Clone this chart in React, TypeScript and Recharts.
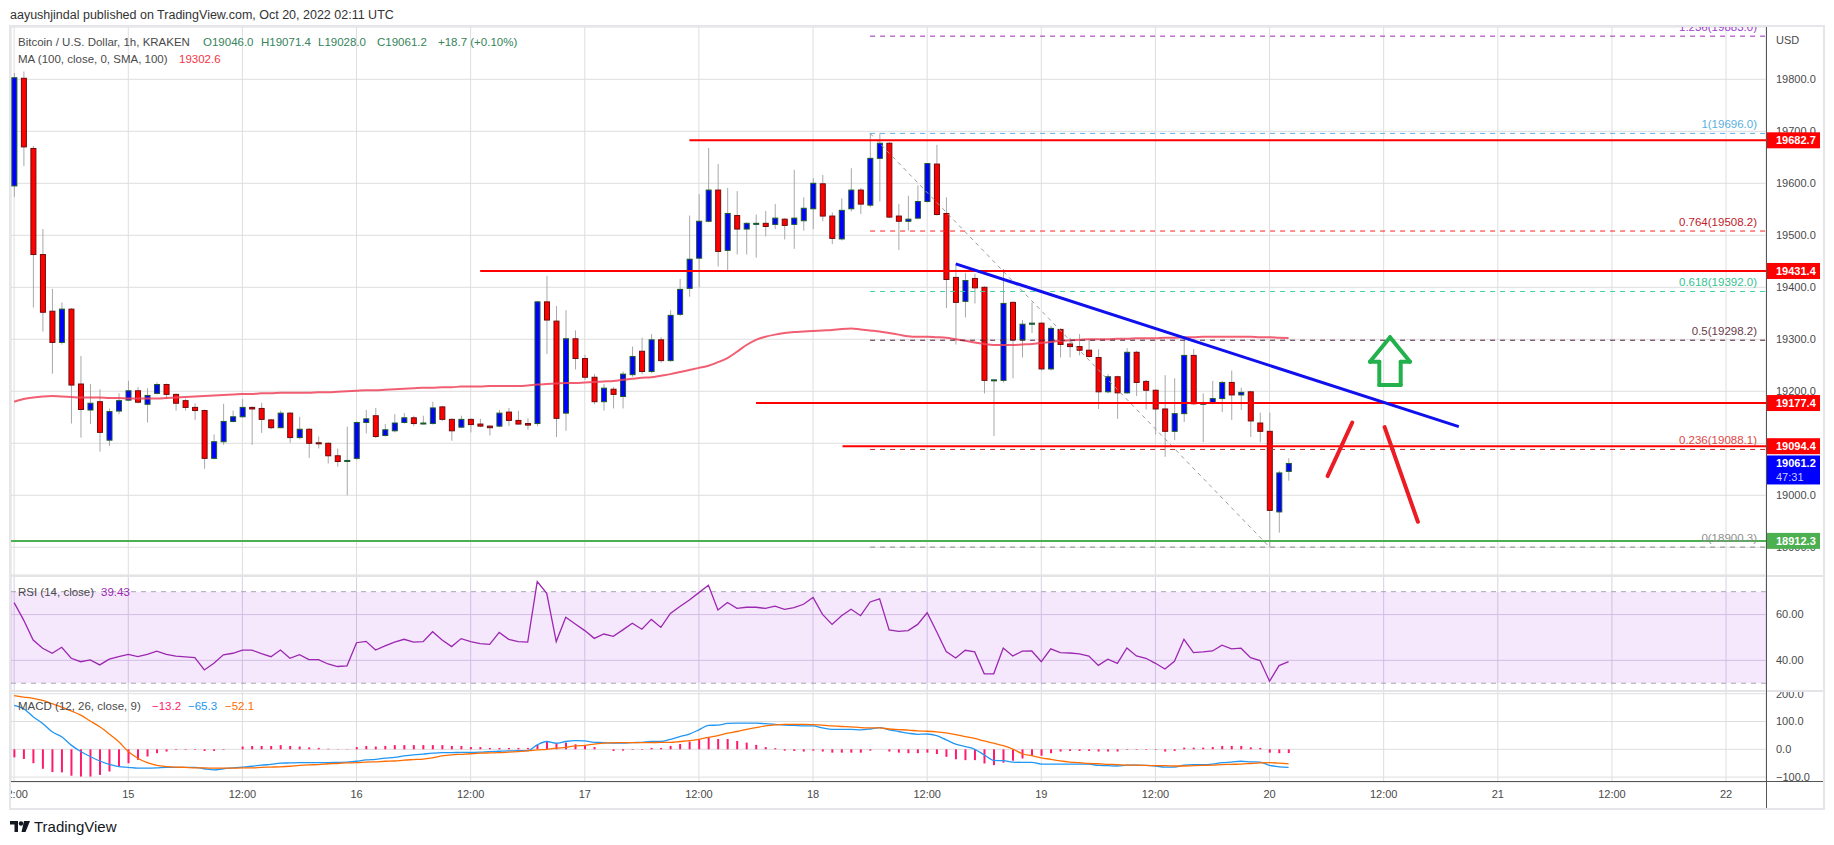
import React from "react";
import {
  ComposedChart,
  Bar,
  Line,
  XAxis,
  YAxis,
  CartesianGrid,
  ReferenceLine,
  ReferenceArea,
  ReferenceDot,
} from "recharts";

// hours are counted from Oct 15 00:00 UTC, the first candle is Oct 14 12:00
const FIRST_HOUR = -12;

const opens = [
  19595, 19802, 19667, 19463, 19354, 19294, 19358, 19214, 19164, 19180,
  19106, 19162, 19183, 19201, 19175, 19196, 19213, 19194, 19182, 19169,
  19163, 19071, 19103, 19142, 19151, 19169, 19167, 19145, 19130, 19158,
  19111, 19127, 19101, 19100, 19076, 19065, 19071, 19140, 19153, 19115,
  19124, 19140, 19149, 19138, 19138, 19170, 19146, 19131, 19146, 19137,
  19133, 19133, 19160, 19144, 19138, 19138, 19372, 19335, 19158, 19301,
  19263, 19227, 19180, 19204, 19190, 19232, 19277, 19238, 19299, 19259,
  19348, 19398, 19456, 19527, 19587, 19471, 19538, 19512, 19523, 19523,
  19521, 19531, 19521, 19528, 19551, 19599, 19537, 19493, 19551, 19587,
  19558, 19648, 19677, 19537, 19527, 19533, 19565, 19637, 19542, 19419,
  19373, 19417, 19400, 19221, 19221, 19371, 19299, 19329, 19331, 19243,
  19319, 19291, 19286, 19279, 19265, 19199, 19228, 19197, 19275, 19219,
  19202, 19166, 19123, 19157, 19269, 19176, 19177, 19186, 19217, 19193,
  19199, 19139, 19123, 18968, 19046,
];
const highs = [
  19812, 19815, 19672, 19512, 19397, 19371, 19360, 19268, 19214, 19204,
  19167, 19196, 19220, 19208, 19206, 19217, 19215, 19196, 19186, 19177,
  19165, 19117, 19176, 19163, 19185, 19171, 19178, 19147, 19163, 19160,
  19151, 19129, 19113, 19102, 19090, 19132, 19142, 19164, 19168, 19137,
  19156, 19158, 19153, 19153, 19180, 19172, 19148, 19153, 19148, 19147,
  19135, 19164, 19168, 19162, 19148, 19374, 19422, 19364, 19356, 19317,
  19270, 19233, 19214, 19208, 19238, 19286, 19303, 19310, 19304, 19356,
  19416, 19538, 19579, 19668, 19637, 19591, 19585, 19525, 19540, 19547,
  19560, 19533, 19626, 19573, 19610, 19616, 19544, 19571, 19629, 19591,
  19696, 19696, 19679, 19560, 19576, 19596, 19639, 19674, 19573, 19442,
  19428, 19426, 19402, 19223, 19435, 19373, 19337, 19371, 19333, 19326,
  19321, 19303, 19310, 19300, 19281, 19233, 19230, 19283, 19278, 19222,
  19204, 19231, 19225, 19302, 19281, 19196, 19220, 19220, 19240, 19207,
  19201, 19159, 19159, 19047, 19071.4,
];
const lows = [
  19574, 19633, 19361, 19315, 19234, 19290, 19138, 19111, 19137, 19084,
  19095, 19156, 19181, 19177, 19140, 19194, 19185, 19163, 19163, 19145,
  19051, 19069, 19097, 19140, 19149, 19097, 19120, 19127, 19129, 19101,
  19108, 19072, 19090, 19061, 19055, 19000, 19068, 19119, 19110, 19113,
  19121, 19138, 19133, 19136, 19136, 19143, 19105, 19129, 19121, 19131,
  19115, 19131, 19133, 19136, 19126, 19133, 19272, 19112, 19124, 19242,
  19222, 19175, 19163, 19167, 19167, 19228, 19233, 19235, 19255, 19257,
  19345, 19382, 19400, 19525, 19440, 19431, 19463, 19463, 19457, 19498,
  19512, 19492, 19474, 19509, 19512, 19527, 19483, 19490, 19546, 19541,
  19554, 19565, 19533, 19472, 19509, 19531, 19563, 19538, 19360, 19290,
  19342, 19369, 19196, 19114, 19217, 19225, 19265, 19312, 19240, 19240,
  19265, 19265, 19269, 19265, 19166, 19196, 19147, 19195, 19191, 19165,
  19117, 19074, 19106, 19141, 19174, 19102, 19175, 19160, 19145, 19164,
  19112, 19102, 18900.3, 18928, 19028,
];
const closes = [
  19803, 19670, 19463, 19352, 19294, 19358, 19212, 19165, 19177, 19121,
  19161, 19182, 19201, 19179, 19192, 19213, 19194, 19177, 19169, 19163,
  19071, 19103, 19142, 19151, 19169, 19166, 19146, 19130, 19158, 19111,
  19127, 19100, 19099, 19076, 19065, 19067, 19140, 19147, 19113, 19126,
  19139, 19149, 19138, 19139, 19168, 19146, 19124, 19146, 19136, 19133,
  19130, 19158, 19144, 19137, 19135, 19372, 19337, 19148, 19301, 19263,
  19227, 19180, 19206, 19194, 19233, 19267, 19238, 19299, 19259, 19346,
  19396, 19454, 19527, 19587, 19469, 19542, 19512, 19523, 19523, 19517,
  19533, 19519, 19533, 19552, 19600, 19537, 19494, 19548, 19587, 19560,
  19648, 19677, 19535, 19527, 19531, 19565, 19638, 19540, 19415, 19371,
  19413, 19399, 19221, 19222, 19369, 19299, 19329, 19331, 19243, 19321,
  19290, 19286, 19279, 19267, 19199, 19228, 19197, 19275, 19217, 19202,
  19166, 19123, 19157, 19269, 19176, 19177, 19186, 19217, 19193, 19198,
  19143, 19123, 18971, 19043, 19061.2,
];
const ma100 = [
  19180, 19185, 19188, 19190, 19191, 19190, 19189, 19188, 19188, 19188,
  19187, 19187, 19186, 19186, 19186, 19186, 19187, 19188, 19189, 19190,
  19191, 19192, 19193, 19194, 19195, 19195, 19196, 19196, 19197, 19197,
  19197, 19197, 19198, 19198, 19199, 19200, 19201, 19202, 19202, 19203,
  19204, 19205, 19206, 19207, 19207, 19208, 19208, 19209, 19209, 19209,
  19210, 19210, 19210, 19210, 19211, 19213, 19214, 19215, 19216, 19216,
  19217, 19218, 19219, 19220, 19222, 19224, 19226, 19227, 19230, 19233,
  19237, 19241, 19245, 19249, 19256, 19264, 19276, 19289, 19299, 19305,
  19309, 19312, 19314, 19315, 19316, 19317, 19318, 19320, 19321, 19319,
  19317, 19315, 19312, 19309, 19306, 19305, 19305, 19304, 19303, 19300,
  19297, 19294, 19291, 19289, 19289, 19289, 19290, 19291, 19293, 19295,
  19297, 19298, 19299, 19300, 19300, 19300, 19301, 19301, 19302, 19302,
  19302, 19303, 19303, 19304, 19304, 19305, 19305, 19305, 19305, 19305,
  19305, 19304, 19304, 19303, 19302.6,
];
const rsi14 = [
  65.2, 57.6, 48.9, 45.3, 43.1, 45.7, 40.9, 39.4, 40.2, 38.0,
  40.5, 41.6, 42.6, 41.6, 42.6, 44.0, 42.6, 41.8, 41.5, 41.2,
  35.8, 38.7, 42.4, 43.1, 44.5, 44.5, 42.9, 41.6, 44.5, 40.9,
  42.5, 40.3, 40.3, 38.4, 37.3, 37.6, 47.7, 48.3, 44.5, 46.3,
  48.0, 49.2, 48.0, 48.2, 52.5, 48.9, 46.0, 49.5, 48.2, 47.3,
  47.0, 52.2, 49.2, 48.2, 48.0, 74.4, 69.3, 48.2, 58.8, 55.9,
  53.0, 49.6, 51.5, 50.5, 53.3, 56.2, 53.6, 57.9, 54.4, 60.5,
  63.5, 66.4, 69.6, 72.8, 62.0, 65.3, 62.7, 63.2, 63.2, 62.7,
  63.7, 62.3, 63.0, 64.5, 67.5, 60.1, 55.7, 59.5, 62.3, 59.5,
  65.5, 66.9, 53.3, 52.7, 53.0, 55.7, 60.8, 52.5, 43.8, 41.0,
  44.4, 43.7, 34.1, 34.1, 45.4, 41.9, 44.0, 44.1, 39.4, 45.0,
  43.4, 43.2, 42.8, 41.9, 37.8, 40.5, 38.7, 45.4, 41.9, 40.9,
  38.7, 36.2, 39.6, 49.2, 43.4, 43.7, 44.1, 46.6, 45.0, 45.3,
  41.2, 39.9, 30.9, 37.7, 39.43,
];
const macdLine = [
  158, 146, 117, 93, 63, 45, 15, -8, -26, -42,
  -54, -62, -65, -68, -68, -67, -65, -65, -65, -65,
  -70, -74, -70, -67, -64, -61, -57, -54, -50, -49,
  -48, -48, -48, -48, -47, -46, -43, -38, -36, -32,
  -29, -24, -20, -17, -14, -12, -12, -11, -11, -10,
  -8, -7, -6, -5, -5, 16, 28, 22, 28, 31,
  30, 25, 24, 22, 22, 24, 25, 28, 28, 36,
  46, 55, 70, 86, 87, 93, 94, 94, 94, 92,
  90, 87, 86, 84, 84, 77, 72, 72, 72, 70,
  73, 78, 70, 64, 58, 54, 55, 49, 34, 19,
  10, 0, -20, -40, -41, -46, -47, -47, -53, -53,
  -53, -53, -53, -53, -58, -59, -60, -57, -57, -58,
  -60, -64, -64, -57, -55, -55, -53, -48, -46, -43,
  -45, -46, -58, -63, -65.3,
];
const signalLine = [
  193, 188, 183, 176, 164, 152, 138, 123, 102, 81,
  55, 27, -8, -32, -48, -58, -62, -64, -65, -67,
  -67, -68, -68, -68, -67, -67, -65, -64, -63, -61,
  -58, -56, -55, -52, -51, -49, -48, -46, -45, -43,
  -42, -39, -37, -35, -31, -24, -20, -18, -16, -14,
  -13, -12, -10, -8, -6, -2, 0, 4, 7, 12,
  14, 19, 22, 24, 24, 24, 24, 24, 25, 25,
  28, 31, 36, 43, 49, 58, 64, 72, 78, 84,
  88, 90, 90, 90, 89, 87, 84, 82, 81, 78,
  77, 77, 73, 71, 69, 66, 65, 63, 59, 53,
  46, 39, 30, 22, 13, 1, -16, -23, -31, -36,
  -42, -46, -48, -51, -52, -54, -55, -57, -57, -58,
  -59, -59, -60, -60, -59, -58, -57, -55, -54, -53,
  -51, -49, -48, -50, -52.1,
];
const macdHist = [
  -29, -35, -50, -70, -82, -83, -95, -98, -98, -92,
  -80, -62, -50, -38, -26, -14, -8, -2, -2, -2,
  -6, -6, -2, 0, 10, 12, 12, 12, 15, 12,
  10, 7, 5, 2, 1, 1, 8, 12, 10, 12,
  15, 15, 15, 15, 15, 15, 12, 12, 8, 8,
  5, 5, 5, 5, 5, 16, 30, 22, 24, 18,
  13, 8, 0, -6, -5, -2, -2, 5, 5, 12,
  19, 28, 36, 43, 37, 37, 30, 24, 16, 8,
  4, -5, -6, -8, -5, -8, -12, -12, -12, -12,
  -5, 0, -8, -12, -14, -14, -12, -17, -27, -36,
  -39, -39, -51, -57, -48, -41, -33, -24, -23, -14,
  -8, -6, -6, -6, -8, -8, -8, -2, -2, -2,
  -2, -8, -6, 6, 6, 6, 8, 12, 12, 12,
  7, 5, -12, -14, -13.2,
];

const hourTicks = [-12, 0, 12, 24, 36, 48, 60, 72, 84, 96, 108, 120, 132, 144, 156, 168];
const priceTicks = [18900, 19000, 19100, 19200, 19300, 19400, 19500, 19600, 19700, 19800];
const rsiTicks = [40, 60];
const macdTicks = [-100, 0, 100, 200];

// horizontal support / resistance rays (price, start hour)
const rayPrices = [19682.7, 19431.4, 19177.4, 19094.4];
const rayStarts = [59, 37, 66, 75.1];
const greenLevel = 18912.3;
const lastPrice = 19061.2;

// fibonacci retracement
const fibRatios = ["1.236", "1", "0.764", "0.618", "0.5", "0.236", "0"];
const fibPrices = [19883.0, 19696.0, 19508.2, 19392.0, 19298.2, 19088.1, 18900.3];
const fibLineColors = ["#9c27b0", "#5ab0e8", "#ff2020", "#3bd1a0", "#4d1f3a", "#c83030", "#8a8a8a"];
const fibTextColors = ["#a040d0", "#5aafe0", "#c0202a", "#34c38f", "#6a3a4a", "#e04848", "#909090"];
const fibStartHour = 78;
const fibEndHour = 120;

// hand drawn annotations (hour, price)
const trendHours = [87.0, 139.9];
const trendPrices = [19445, 19132];
const zigUpHours = [126.1, 128.7];
const zigUpPrices = [19037, 19140];
const zigDownHours = [132.1, 135.6];
const zigDownPrices = [19131, 18949];
const arrowHours = [132.67, 134.77, 133.79, 133.79, 131.54, 131.54, 130.56, 132.67];
const arrowPrices = [19304, 19257, 19257, 19212, 19212, 19257, 19257, 19304];

const X_MIN = -12.33;
const X_MAX = 172.2;
const PRICE_DOMAIN = [18846.7, 19900.6];
const W = 1834;
const AXIS_W = 57;
const FONT = '"Liberation Sans", Arial, sans-serif';
const MARGIN = { top: 0, right: 11, bottom: 0, left: 11 };

const rows = opens.map((o, i) => ({
  t: FIRST_HOUR + i,
  o,
  h: highs[i],
  l: lows[i],
  c: closes[i],
  range: [lows[i], highs[i]],
  ma: ma100[i],
  rsi: rsi14[i],
  macd: macdLine[i],
  signal: signalLine[i],
  hist: macdHist[i],
}));

const fmtHour = (t: number) => (t % 24 === 0 ? String(15 + t / 24) : "12:00");
const minus = (s: string) => s.replace("-", "\u2212");

const Candle = (props: any) => {
  const { x, y, width, height, payload } = props;
  const { o, h, l, c } = payload;
  const cx = x + width / 2;
  const k = height / (h - l || 1);
  const yOf = (v: number) => y + (h - v) * k;
  const up = c >= o;
  const top = yOf(Math.max(o, c));
  const bot = yOf(Math.min(o, c));
  return (
    <g>
      <line x1={cx} x2={cx} y1={y} y2={y + height} stroke="#a8a8a8" strokeWidth={1} />
      <rect
        x={cx - 2.5}
        y={top}
        width={5}
        height={Math.max(bot - top, 1)}
        fill={up ? "#0000ff" : "#ff0000"}
        stroke={up ? "#1e5b2c" : "#6e0b0b"}
        strokeWidth={1}
      />
    </g>
  );
};

const axisBox = (bg: string, label: string) => (p: any) => (
  <g>
    <rect x={p.cx + 1} y={p.cy - 8} width={53} height={16} fill={bg} />
    <text x={p.cx + 10} y={p.cy + 4} fill="#fff" fontSize={11} fontWeight="bold" fontFamily={FONT}>
      {label}
    </text>
  </g>
);

const lastBox = (p: any) => (
  <g>
    <rect x={p.cx + 1} y={p.cy - 8} width={53} height={29} fill="#0000ff" />
    <text x={p.cx + 10} y={p.cy + 4} fill="#fff" fontSize={11} fontWeight="bold" fontFamily={FONT}>
      {lastPrice.toFixed(1)}
    </text>
    <text x={p.cx + 10} y={p.cy + 18} fill="#c9c9ff" fontSize={11} fontFamily={FONT}>
      47:31
    </text>
  </g>
);

const fibLabel = (i: number) => (p: any) => (
  <text
    x={p.cx - 9}
    y={p.cy - 5}
    textAnchor="end"
    fill={fibTextColors[i]}
    fontSize={11.5}
    fontFamily={FONT}
  >
    {`${fibRatios[i]}(${fibPrices[i].toFixed(1)})`}
  </text>
);

const tickStyle = { fontSize: 11, fill: "#4a4a4a", fontFamily: FONT };

const Txt = ({ x, yc, color = "#4a4a4a", size = 11.5, children, weight }: any) => (
  <div
    style={{
      position: "absolute",
      left: x,
      top: yc - 8,
      height: 16,
      lineHeight: "16px",
      fontSize: size,
      color,
      fontFamily: FONT,
      fontWeight: weight,
      whiteSpace: "nowrap",
    }}
  >
    {children}
  </div>
);

const seg = (x1: number, y1: number, x2: number, y2: number) => [
  { x: x1, y: y1 },
  { x: x2, y: y2 },
];

export default function App() {
  const ohlcGreen = "#35845a";
  return (
    <div style={{ position: "absolute", left: 0, top: 0, width: W, height: 845, background: "#fff", overflow: "hidden" }}>
      {/* main price pane */}
      <div style={{ position: "absolute", left: 0, top: 27 }}>
        <ComposedChart width={W} height={548} data={rows} margin={MARGIN}>
          <CartesianGrid stroke="#dedede" />
          <XAxis dataKey="t" type="number" domain={[X_MIN, X_MAX]} ticks={hourTicks} allowDataOverflow hide />
          <YAxis
            orientation="right"
            width={AXIS_W}
            domain={PRICE_DOMAIN}
            ticks={priceTicks}
            interval={0}
            allowDataOverflow
            tickLine={false}
            axisLine={false}
            tickMargin={4}
            tick={tickStyle}
            tickFormatter={(v: number) => v.toFixed(1)}
          />
          <Bar dataKey="range" barSize={6} shape={Candle} isAnimationActive={false} />
          <Line dataKey="ma" type="monotone" stroke="#f0435a" strokeOpacity={0.85} strokeWidth={2} dot={false} isAnimationActive={false} />

          {fibPrices.map((p, i) => (
            <ReferenceLine
              key={"fib" + i}
              segment={seg(fibStartHour, p, X_MAX, p)}
              stroke={fibLineColors[i]}
              strokeDasharray="5 5"
              strokeWidth={1}
            />
          ))}
          <ReferenceLine
            segment={seg(fibStartHour, fibPrices[1], fibEndHour, fibPrices[6])}
            stroke="#9a9a9a"
            strokeDasharray="4 4"
            strokeWidth={1}
          />
          {rayPrices.map((p, i) => (
            <ReferenceLine key={"ray" + i} segment={seg(rayStarts[i], p, X_MAX, p)} stroke="#ff0000" strokeWidth={2} />
          ))}
          <ReferenceLine segment={seg(X_MIN, greenLevel, X_MAX, greenLevel)} stroke="#4caf50" strokeWidth={2} />
          <ReferenceLine
            segment={seg(trendHours[0], trendPrices[0], trendHours[1], trendPrices[1])}
            stroke="#1010ee"
            strokeWidth={3}
          />
          <ReferenceLine
            segment={seg(zigUpHours[0], zigUpPrices[0], zigUpHours[1], zigUpPrices[1])}
            stroke="#ec1c24"
            strokeWidth={4}
            strokeLinecap="round"
          />
          <ReferenceLine
            segment={seg(zigDownHours[0], zigDownPrices[0], zigDownHours[1], zigDownPrices[1])}
            stroke="#ec1c24"
            strokeWidth={4}
            strokeLinecap="round"
          />
          {arrowHours.slice(1).map((h, i) => (
            <ReferenceLine
              key={"arr" + i}
              segment={seg(arrowHours[i], arrowPrices[i], h, arrowPrices[i + 1])}
              stroke="#22b14c"
              strokeWidth={4}
              strokeLinecap="round"
            />
          ))}
          {fibPrices.map((p, i) => (
            <ReferenceDot key={"fl" + i} x={X_MAX} y={p} r={0} ifOverflow="visible" shape={fibLabel(i)} />
          ))}
        </ComposedChart>
      </div>

      {/* price boxes on the axis, drawn over the tick labels */}
      <div style={{ position: "absolute", left: 0, top: 27 }}>
        <ComposedChart width={W} height={548} data={rows} margin={MARGIN}>
          <XAxis dataKey="t" type="number" domain={[X_MIN, X_MAX]} allowDataOverflow hide />
          <YAxis
            orientation="right"
            width={AXIS_W}
            domain={PRICE_DOMAIN}
            allowDataOverflow
            tick={false}
            tickLine={false}
            axisLine={false}
          />
          {rayPrices.map((p, i) => (
            <ReferenceDot key={"rb" + i} x={X_MAX} y={p} r={0} ifOverflow="visible" shape={axisBox("#ff0000", p.toFixed(1))} />
          ))}
          <ReferenceDot x={X_MAX} y={greenLevel} r={0} ifOverflow="visible" shape={axisBox("#4caf50", greenLevel.toFixed(1))} />
          <ReferenceDot x={X_MAX} y={lastPrice} r={0} ifOverflow="visible" shape={lastBox} />
        </ComposedChart>
      </div>

      {/* RSI pane */}
      <div style={{ position: "absolute", left: 0, top: 575 }}>
        <ComposedChart width={W} height={116} data={rows} margin={MARGIN}>
          <ReferenceArea x1={X_MIN} x2={X_MAX} y1={30} y2={70} fill="#b040f0" fillOpacity={0.12} stroke="none" />
          <CartesianGrid stroke="#d9cfe2" />
          <XAxis dataKey="t" type="number" domain={[X_MIN, X_MAX]} ticks={hourTicks} allowDataOverflow hide />
          <YAxis
            orientation="right"
            width={AXIS_W}
            domain={[26.6, 77.3]}
            ticks={rsiTicks}
            interval={0}
            allowDataOverflow
            tickLine={false}
            axisLine={false}
            tickMargin={4}
            tick={tickStyle}
            tickFormatter={(v: number) => v.toFixed(2)}
          />
          <ReferenceLine y={70} stroke="#aaa4b4" strokeDasharray="5 5" />
          <ReferenceLine y={30} stroke="#aaa4b4" strokeDasharray="5 5" />
          <Line dataKey="rsi" type="linear" stroke="#9c27b0" strokeWidth={1.3} dot={false} isAnimationActive={false} />
        </ComposedChart>
      </div>

      {/* MACD pane with time axis */}
      <div style={{ position: "absolute", left: 0, top: 691 }}>
        <ComposedChart width={W} height={117} data={rows} margin={MARGIN}>
          <CartesianGrid stroke="#dedede" />
          <XAxis
            dataKey="t"
            type="number"
            domain={[X_MIN, X_MAX]}
            ticks={hourTicks}
            interval={0}
            allowDataOverflow
            height={26}
            tickLine={false}
            axisLine={false}
            tick={tickStyle}
            tickFormatter={fmtHour}
          />
          <YAxis
            orientation="right"
            width={AXIS_W}
            domain={[-117.6, 209.7]}
            ticks={macdTicks}
            interval={0}
            allowDataOverflow
            tickLine={false}
            axisLine={false}
            tickMargin={4}
            tick={tickStyle}
            tickFormatter={(v: number) => minus(v.toFixed(1))}
          />
          <Bar dataKey="hist" barSize={2} fill="#ff1a6e" isAnimationActive={false} />
          <Line dataKey="macd" type="monotone" stroke="#2196f3" strokeWidth={1.3} dot={false} isAnimationActive={false} />
          <Line dataKey="signal" type="monotone" stroke="#ff6d00" strokeWidth={1.3} dot={false} isAnimationActive={false} />
        </ComposedChart>
      </div>

      {/* frame, separators, axis lines */}
      <div style={{ position: "absolute", left: 0, top: 783, width: 10, height: 26, background: "#fff" }} />
      <div style={{ position: "absolute", left: 11, top: 575, width: 1812, height: 2, background: "#e3e3e8" }} />
      <div style={{ position: "absolute", left: 11, top: 690, width: 1812, height: 2, background: "#e3e3e8" }} />
      <div style={{ position: "absolute", left: 11, top: 781, width: 1812, height: 1, background: "#555" }} />
      <div style={{ position: "absolute", left: 1766, top: 27, width: 1, height: 781, background: "#555" }} />
      <div
        style={{
          position: "absolute",
          left: 9,
          top: 25,
          width: 1812,
          height: 781,
          border: "2px solid #e6e6ea",
        }}
      />

      {/* texts */}
      <Txt x={10} yc={15} color="#333" size={12.5}>
        aayushjindal published on TradingView.com, Oct 20, 2022 02:11 UTC
      </Txt>
      <Txt x={18} yc={42}>Bitcoin / U.S. Dollar, 1h, KRAKEN</Txt>
      <Txt x={203} yc={42} color={ohlcGreen}>O19046.0</Txt>
      <Txt x={261} yc={42} color={ohlcGreen}>H19071.4</Txt>
      <Txt x={318} yc={42} color={ohlcGreen}>L19028.0</Txt>
      <Txt x={377} yc={42} color={ohlcGreen}>C19061.2</Txt>
      <Txt x={438} yc={42} color={ohlcGreen}>+18.7 (+0.10%)</Txt>
      <Txt x={18} yc={59}>MA (100, close, 0, SMA, 100)</Txt>
      <Txt x={179} yc={59} color="#f23645">19302.6</Txt>
      <Txt x={1776} yc={40} size={11}>USD</Txt>

      <Txt x={18} yc={592}>RSI (14, close)</Txt>
      <Txt x={101} yc={592} color="#9c27b0">39.43</Txt>

      <Txt x={18} yc={706}>MACD (12, 26, close, 9)</Txt>
      <Txt x={152} yc={706} color="#ff1a6e">{minus("-13.2")}</Txt>
      <Txt x={188} yc={706} color="#2196f3">{minus("-65.3")}</Txt>
      <Txt x={225} yc={706} color="#ff6d00">{minus("-52.1")}</Txt>

      {/* footer */}
      <svg style={{ position: "absolute", left: 10, top: 821 }} width={20} height={12}>
        <rect x={0} y={0} width={8} height={3.5} fill="#131722" />
        <rect x={4.5} y={0} width={3.5} height={11} fill="#131722" />
        <circle cx={11} cy={2.5} r={2.2} fill="#131722" />
        <polygon points="14,0 20,0 15.5,11 11.5,11" fill="#131722" />
      </svg>
      <Txt x={34} yc={827} color="#131722" size={15}>TradingView</Txt>
    </div>
  );
}
